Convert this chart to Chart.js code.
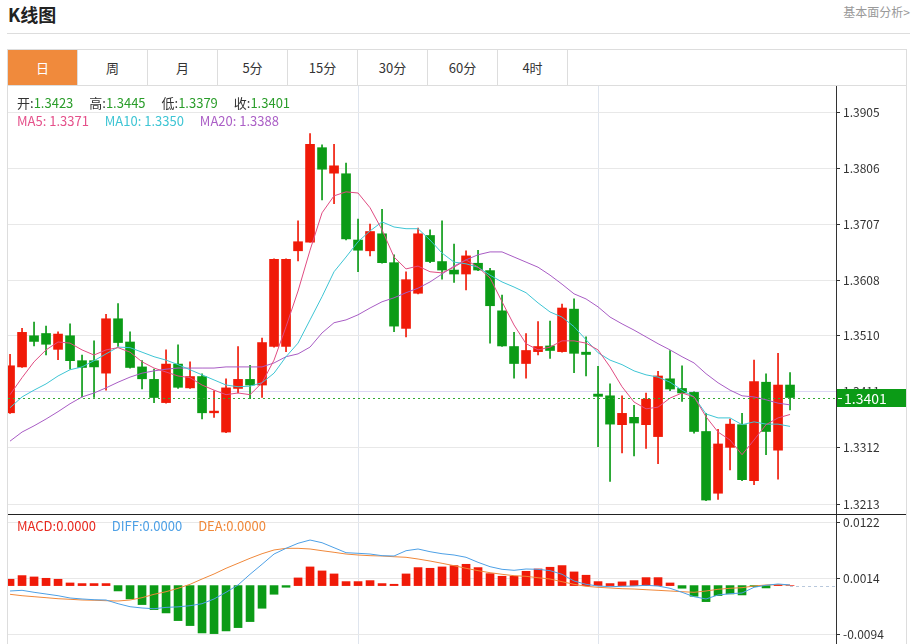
<!DOCTYPE html>
<html>
<head>
<meta charset="utf-8">
<title>K线图</title>
<script src="https://cdn.jsdelivr.net/npm/chart.js@4.4.1/dist/chart.umd.min.js"></script>
<style>
  body { margin: 0; width: 912px; height: 644px; overflow: hidden; background: #fff; position: relative;
         font-family: "Microsoft YaHei", "Noto Sans CJK SC", sans-serif; }
  .title { position: absolute; left: 8px; top: 1px; font-size: 18px; font-weight: bold; color: #222; }
  .more { position: absolute; right: 2px; top: 3px; font-size: 12px; color: #999; }
  .rule { position: absolute; left: 7px; top: 33px; width: 903px; height: 1px; background: #ddd; }
  .box { position: absolute; left: 7px; top: 49px; width: 898px; height: 600px; border: 1px solid #ddd; }
  .tabs { height: 35px; border-bottom: 1px solid #ddd; display: flex; }
  .tabs div { width: 69px; border-right: 1px solid #ddd; text-align: center; line-height: 35px; font-size: 13px; color: #333; }
  .tabs .on { background: #f08a3c; color: #fff; }
  canvas { position: absolute; left: 8px; }
  #main { top: 86px; }
  #macd { top: 515px; }
  .sep { position: absolute; left: 8px; top: 514px; width: 898px; height: 1px; background: #222; }
  .legend { position: absolute; left: 17px; font-size: 13px; line-height: 16px; white-space: nowrap; }
  .legend > span { margin-right: 13px; }
  .k { color: #333; }
  .v { color: #2a9d2a; }
</style>
</head>
<body>
<div class="title">K线图</div>
<div class="more">基本面分析&gt;</div>
<div class="rule"></div>
<div class="box">
  <div class="tabs">
    <div class="on">日</div><div>周</div><div>月</div><div>5分</div><div>15分</div><div>30分</div><div>60分</div><div>4时</div>
  </div>
</div>
<canvas id="main" width="898" height="428"></canvas>
<div class="sep"></div>
<canvas id="macd" width="898" height="129"></canvas>
<div class="legend" style="top:95px">
  <span><b class="k" style="font-weight:normal">开:</b><b class="v" style="font-weight:normal">1.3423</b></span>
  <span><b class="k" style="font-weight:normal">高:</b><b class="v" style="font-weight:normal">1.3445</b></span>
  <span><b class="k" style="font-weight:normal">低:</b><b class="v" style="font-weight:normal">1.3379</b></span>
  <span><b class="k" style="font-weight:normal">收:</b><b class="v" style="font-weight:normal">1.3401</b></span>
</div>
<div class="legend" style="top:113px">
  <span style="color:#e5508a">MA5: 1.3371</span>
  <span style="color:#3ec5d4">MA10: 1.3350</span>
  <span style="color:#ab5fc6">MA20: 1.3388</span>
</div>
<div class="legend" style="top:518px">
  <span style="color:#e8281e">MACD:0.0000</span>
  <span style="color:#4da0e6">DIFF:0.0000</span>
  <span style="color:#f0883a">DEA:0.0000</span>
</div>
<script>
// daily candles
var opens  = [1.3374,1.3455,1.3510,1.3514,1.3486,1.3510,1.3466,1.3466,1.3444,1.3540,1.3499,1.3455,1.3433,1.3392,1.3460,1.3418,1.3438,1.3374,1.3340,1.3417,1.3433,1.3423,1.3491,1.3491,1.3660,1.3675,1.3842,1.3797,1.3796,1.3679,1.3660,1.3690,1.3639,1.3523,1.3585,1.3687,1.3641,1.3626,1.3619,1.3638,1.3625,1.3554,1.3491,1.3461,1.3482,1.3492,1.3482,1.3557,1.3481,1.3407,1.3404,1.3353,1.3366,1.3353,1.3332,1.3434,1.3417,1.3410,1.3341,1.3232,1.3313,1.3353,1.3254,1.3428,1.3308,1.3423];
var highs  = [1.3477,1.3523,1.3534,1.3527,1.3517,1.3531,1.3476,1.3501,1.3548,1.3567,1.3517,1.3466,1.3451,1.3485,1.3494,1.3464,1.3443,1.3413,1.3434,1.3491,1.3458,1.3506,1.3646,1.3646,1.3713,1.3867,1.3847,1.3848,1.3815,1.3716,1.3707,1.3733,1.3653,1.3623,1.3700,1.3697,1.3713,1.3672,1.3660,1.3661,1.3629,1.3582,1.3516,1.3514,1.3535,1.3536,1.3566,1.3575,1.3508,1.3456,1.3425,1.3404,1.3387,1.3409,1.3447,1.3484,1.3457,1.3411,1.3373,1.3345,1.3363,1.3373,1.3467,1.3443,1.3479,1.3445];
var lows   = [1.3373,1.3454,1.3492,1.3476,1.3468,1.3451,1.3402,1.3401,1.3414,1.3491,1.3453,1.3416,1.3392,1.3391,1.3417,1.3417,1.3363,1.3366,1.3339,1.3409,1.3399,1.3401,1.3490,1.3482,1.3642,1.3675,1.3750,1.3743,1.3679,1.3623,1.3651,1.3638,1.3517,1.3508,1.3584,1.3639,1.3610,1.3604,1.3591,1.3625,1.3497,1.3491,1.3435,1.3435,1.3476,1.3470,1.3481,1.3445,1.3439,1.3314,1.3253,1.3303,1.3298,1.3311,1.3284,1.3413,1.3394,1.3338,1.3219,1.3221,1.3273,1.3254,1.3247,1.3300,1.3257,1.3379];
var closes = [1.3457,1.3516,1.3500,1.3495,1.3513,1.3466,1.3454,1.3455,1.3540,1.3498,1.3454,1.3434,1.3401,1.3460,1.3419,1.3438,1.3374,1.3377,1.3418,1.3433,1.3423,1.3498,1.3645,1.3645,1.3676,1.3848,1.3804,1.3810,1.3681,1.3661,1.3694,1.3639,1.3527,1.3609,1.3690,1.3641,1.3626,1.3619,1.3651,1.3626,1.3563,1.3492,1.3461,1.3484,1.3491,1.3484,1.3559,1.3479,1.3477,1.3403,1.3354,1.3373,1.3356,1.3398,1.3439,1.3416,1.3409,1.3341,1.3220,1.3319,1.3354,1.3256,1.3429,1.3341,1.3423,1.3401];

var ma5  = [1.3406,1.3436,1.3464,1.3485,1.3499,1.3497,1.3485,1.3476,1.3485,1.3489,1.3481,1.3464,1.3453,1.3446,1.3439,1.3436,1.3423,1.3414,1.3406,1.3409,1.3406,1.3427,1.3467,1.3526,1.3589,1.3661,1.3727,1.3757,1.3764,1.3762,1.3736,1.3697,1.3649,1.3628,1.3633,1.3623,1.3621,1.3631,1.3644,1.3631,1.3612,1.3570,1.3529,1.3496,1.3485,1.3490,1.3501,1.3501,1.3497,1.3485,1.3455,1.3420,1.3393,1.3381,1.3384,1.3400,1.3409,1.3402,1.3367,1.3340,1.3326,1.3300,1.3326,1.3353,1.3365,1.3371];
var ma10 = [1.3383,1.3402,1.3414,1.3425,1.3439,1.3450,1.3455,1.3466,1.3478,1.3490,1.3489,1.3481,1.3473,1.3467,1.3459,1.3450,1.3441,1.3432,1.3423,1.3420,1.3421,1.3427,1.3444,1.3473,1.3497,1.3538,1.3579,1.3623,1.3649,1.3676,1.3695,1.3711,1.3702,1.3699,1.3699,1.3679,1.3656,1.3640,1.3637,1.3631,1.3617,1.3605,1.3596,1.3586,1.3568,1.3552,1.3543,1.3526,1.3503,1.3480,1.3467,1.3459,1.3448,1.3441,1.3437,1.3428,1.3414,1.3402,1.3372,1.3365,1.3365,1.3353,1.3358,1.3354,1.3354,1.3350];
var ma20 = [1.3324,1.3340,1.3351,1.3363,1.3376,1.3390,1.3402,1.3409,1.3418,1.3428,1.3437,1.3444,1.3448,1.3451,1.3453,1.3453,1.3453,1.3453,1.3455,1.3455,1.3455,1.3455,1.3462,1.3473,1.3478,1.3490,1.3515,1.3533,1.3538,1.3547,1.3559,1.3570,1.3577,1.3586,1.3594,1.3605,1.3619,1.3633,1.3644,1.3653,1.3658,1.3658,1.3649,1.3640,1.3631,1.3617,1.3601,1.3584,1.3575,1.3561,1.3543,1.3531,1.3520,1.3508,1.3496,1.3485,1.3473,1.3462,1.3443,1.3427,1.3414,1.3404,1.3402,1.3397,1.3391,1.3388];

var macdBars = [0.00122,0.00193,0.00167,0.00141,0.00122,0.00051,0.00039,0.00039,0.00039,-0.00103,-0.00257,-0.00366,-0.00463,-0.00527,-0.00675,-0.00771,-0.00913,-0.00926,-0.00874,-0.00810,-0.00694,-0.00437,-0.00167,-0.00032,0.00148,0.00360,0.00283,0.00225,0.00077,0.00077,0.00096,0.00039,0.00026,0.00225,0.00347,0.00334,0.00360,0.00386,0.00411,0.00347,0.00231,0.00180,0.00180,0.00276,0.00321,0.00354,0.00386,0.00264,0.00200,0.00077,0.00039,0.00071,0.00096,0.00154,0.00154,0.00051,-0.00051,-0.00206,-0.00309,-0.00193,-0.00161,-0.00180,-0.00020,-0.00045,0.00010,0.00000];
var diffLine = [-0.00104,-0.00091,-0.00129,-0.00162,-0.00195,-0.00239,-0.00258,-0.00272,-0.00278,-0.00349,-0.00407,-0.00432,-0.00446,-0.00420,-0.00410,-0.00388,-0.00349,-0.00258,-0.00129,0.00012,0.00218,0.00411,0.00609,0.00719,0.00816,0.00879,0.00827,0.00731,0.00635,0.00623,0.00609,0.00577,0.00571,0.00673,0.00706,0.00654,0.00615,0.00590,0.00546,0.00449,0.00365,0.00314,0.00295,0.00320,0.00314,0.00288,0.00218,0.00089,0.00025,-0.00008,-0.00021,-0.00014,-0.00008,0.00006,-0.00008,-0.00052,-0.00129,-0.00214,-0.00258,-0.00181,-0.00156,-0.00143,-0.00033,0.00006,0.00031,0.00012];
var deaLine  = [-0.00168,-0.00195,-0.00214,-0.00233,-0.00253,-0.00264,-0.00278,-0.00283,-0.00291,-0.00297,-0.00278,-0.00233,-0.00168,-0.00118,-0.00052,0.00025,0.00127,0.00224,0.00334,0.00430,0.00527,0.00615,0.00687,0.00719,0.00719,0.00706,0.00673,0.00642,0.00609,0.00590,0.00577,0.00571,0.00557,0.00546,0.00513,0.00474,0.00430,0.00384,0.00334,0.00288,0.00249,0.00218,0.00191,0.00179,0.00152,0.00127,0.00075,0.00025,-0.00014,-0.00033,-0.00046,-0.00060,-0.00066,-0.00079,-0.00091,-0.00104,-0.00118,-0.00129,-0.00104,-0.00071,-0.00052,-0.00040,-0.00008,0.00012,0.00019,0.00012];

var priceTicks = [1.3905, 1.3806, 1.3707, 1.3608, 1.3510, 1.3411, 1.3312, 1.3213];
var macdTicks = [0.0122, 0.0014, -0.0094];
var dividerDays = [29, 49];

var RED = '#f01a08', GREEN = '#0b9b16';
var FONT = '"Microsoft YaHei", "Noto Sans CJK SC", sans-serif';
var idx = closes.map(function (c, i) { return i; });
var candleColor = idx.map(function (i) { return closes[i] >= opens[i] ? RED : GREEN; });

function xAxis() {
    return {
        type: 'linear', min: -0.17, max: 68.83, offset: false,
        grid: { color: '#dfe5ee', drawTicks: false, offset: false },
        border: { display: false },
        ticks: { display: false },
        afterBuildTicks: function (s) { s.ticks = dividerDays.map(function (v) { return { value: v }; }); },
        afterFit: function (s) { s.height = 0; s.paddingLeft = 0; s.paddingRight = 0; }
    };
}

function yAxis(min, max, tickValues) {
    return {
        position: 'right', min: min, max: max,
        grid: {
            color: function (c) { return c.tick && c.tick.value === 1.3411 ? '#dcd6f4' : '#e8e8e8'; },
            tickColor: '#333', tickLength: 4
        },
        border: { color: '#333' },
        ticks: {
            color: '#333', padding: 3, font: { size: 12, family: FONT },
            callback: function (v) { return Number(v).toFixed(4); }
        },
        afterBuildTicks: function (s) { s.ticks = tickValues.map(function (v) { return { value: v }; }); },
        // fixed axis width, no label padding so the plot fills the canvas height
        afterFit: function (s) { s.width = 70; s.paddingTop = 0; s.paddingBottom = 0; }
    };
}

function maLine(values, color) {
    return {
        type: 'line', order: 0, borderColor: color, borderWidth: 1, pointRadius: 0, tension: 0,
        data: idx.map(function (i) { return { x: i, y: values[i] }; })
    };
}

// last close: dotted line + green box on the axis
var lastPrice = {
    id: 'lastPrice',
    afterDraw: function (chart) {
        var ctx = chart.ctx, a = chart.chartArea, y = chart.scales.y;
        var last = closes[closes.length - 1];
        var py = Math.round(y.getPixelForValue(last)) + 0.5;
        ctx.save();
        ctx.strokeStyle = '#34a834';
        ctx.lineWidth = 1;
        ctx.setLineDash([2, 3]);
        ctx.beginPath(); ctx.moveTo(a.left, py); ctx.lineTo(a.right, py); ctx.stroke();
        ctx.setLineDash([]);
        ctx.fillStyle = GREEN;
        ctx.fillRect(a.right + 1, py - 9.5, 69, 18);
        ctx.strokeStyle = '#fff';
        ctx.beginPath(); ctx.moveTo(a.right + 2, py); ctx.lineTo(a.right + 6, py); ctx.stroke();
        ctx.fillStyle = '#fff';
        ctx.font = '14px ' + FONT;
        ctx.textBaseline = 'middle';
        ctx.fillText(last.toFixed(4), a.right + 8, py);
        ctx.restore();
    }
};

new Chart(document.getElementById('main'), {
    type: 'bar',
    data: {
        datasets: [
            maLine(ma5, '#e04c82'),
            maLine(ma10, '#3ec5d4'),
            maLine(ma20, '#a85cc4'),
            {
                order: 1, grouped: false, barThickness: 9, backgroundColor: candleColor,
                data: idx.map(function (i) { return { x: i, y: [opens[i], closes[i]] }; })
            },
            {
                order: 2, grouped: false, barThickness: 1, backgroundColor: candleColor,
                data: idx.map(function (i) { return { x: i, y: [lows[i], highs[i]] }; })
            }
        ]
    },
    options: {
        responsive: false, animation: false, events: [],
        layout: { padding: 0 },
        plugins: { legend: { display: false }, tooltip: { enabled: false } },
        scales: { x: xAxis(), y: yAxis(1.319535, 1.39509, priceTicks) }
    },
    plugins: [lastPrice]
});

// dotted zero line to the right of the last bar
var zeroTail = {
    id: 'zeroTail',
    afterDraw: function (chart) {
        var ctx = chart.ctx, a = chart.chartArea;
        var py = Math.round(chart.scales.y.getPixelForValue(0)) + 0.5;
        var px = chart.scales.x.getPixelForValue(closes.length - 1);
        ctx.save();
        ctx.strokeStyle = '#b8c8dc';
        ctx.setLineDash([3, 3]);
        ctx.beginPath(); ctx.moveTo(px, py); ctx.lineTo(a.right, py); ctx.stroke();
        ctx.restore();
    }
};

new Chart(document.getElementById('macd'), {
    type: 'bar',
    data: {
        datasets: [
            {
                type: 'line', order: 0, borderColor: '#4da0e6', borderWidth: 1, pointRadius: 0,
                data: idx.map(function (i) { return { x: i, y: diffLine[i] }; })
            },
            {
                type: 'line', order: 0, borderColor: '#f0883a', borderWidth: 1, pointRadius: 0,
                data: idx.map(function (i) { return { x: i, y: deaLine[i] }; })
            },
            {
                order: 1, barThickness: 8,
                backgroundColor: macdBars.map(function (v) { return v >= 0 ? RED : GREEN; }),
                data: idx.map(function (i) { return { x: i, y: macdBars[i] }; })
            }
        ]
    },
    options: {
        responsive: false, animation: false, events: [],
        layout: { padding: 0 },
        plugins: { legend: { display: false }, tooltip: { enabled: false } },
        scales: { x: xAxis(), y: yAxis(-0.011263, 0.013616, macdTicks) }
    },
    plugins: [zeroTail]
});
</script>
</body>
</html>
